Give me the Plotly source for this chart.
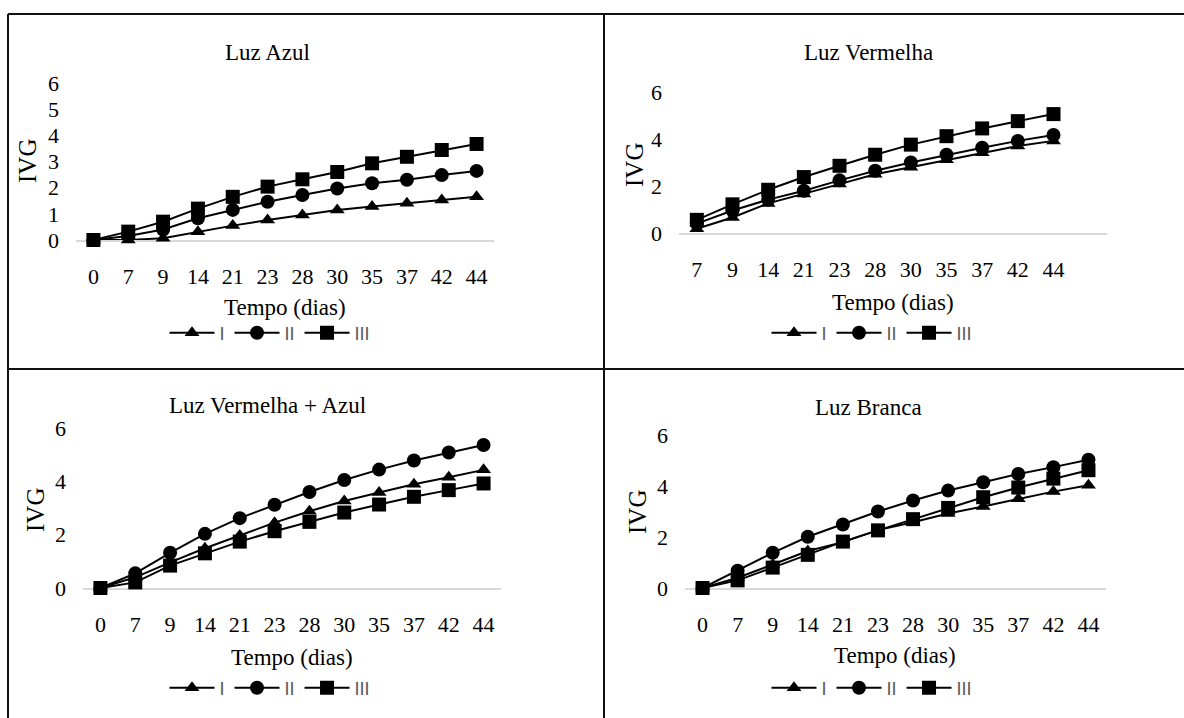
import plotly.graph_objects as go

W, H = 1184, 718

# ---- data ----
days_all = ["0", "7", "9", "14", "21", "23", "28", "30", "35", "37", "42", "44"]
days_verm = ["7", "9", "14", "21", "23", "28", "30", "35", "37", "42", "44"]
series_names = ["I", "II", "III"]

azul_I = [0, 0.0, 0.07, 0.32, 0.55, 0.76, 0.96, 1.15, 1.28, 1.40, 1.53, 1.65]
azul_II = [0, 0.15, 0.40, 0.83, 1.15, 1.46, 1.72, 1.97, 2.17, 2.30, 2.48, 2.64]
azul_III = [0, 0.32, 0.70, 1.20, 1.65, 2.04, 2.32, 2.60, 2.93, 3.18, 3.44, 3.67]

verm_I = [0.18, 0.66, 1.26, 1.66, 2.08, 2.50, 2.80, 3.12, 3.42, 3.70, 3.92]
verm_II = [0.40, 0.96, 1.42, 1.80, 2.24, 2.65, 3.00, 3.33, 3.63, 3.92, 4.17]
verm_III = [0.56, 1.22, 1.84, 2.38, 2.86, 3.33, 3.76, 4.12, 4.45, 4.76, 5.06]

va_I = [0, 0.40, 0.96, 1.49, 1.97, 2.45, 2.88, 3.26, 3.58, 3.89, 4.15, 4.43]
va_II = [0, 0.55, 1.32, 2.03, 2.62, 3.12, 3.60, 4.05, 4.44, 4.78, 5.08, 5.36]
va_III = [0, 0.21, 0.84, 1.30, 1.74, 2.13, 2.48, 2.83, 3.13, 3.42, 3.67, 3.92]

br_I = [0, 0.40, 0.92, 1.45, 1.80, 2.27, 2.58, 2.92, 3.20, 3.50, 3.78, 4.03]
br_II = [0, 0.68, 1.38, 2.01, 2.49, 3.00, 3.43, 3.82, 4.15, 4.47, 4.74, 5.03]
br_III = [0, 0.30, 0.80, 1.30, 1.82, 2.26, 2.70, 3.14, 3.56, 3.94, 4.29, 4.62]

titles = ["Luz Azul", "Luz Vermelha", "Luz Vermelha + Azul", "Luz Branca"]
x_title = "Tempo (dias)"
y_title = "IVG"

panels = [
    (days_all, [azul_I, azul_II, azul_III]),
    (days_verm, [verm_I, verm_II, verm_III]),
    (days_all, [va_I, va_II, va_III]),
    (days_all, [br_I, br_II, br_III]),
]

# ---- layout geometry (pixels) ----
geo = [
    (76, 494, 240, 83),
    (679, 1107, 233, 92),
    (83, 501, 588, 428),
    (685, 1106, 588, 435),
]
title_pos = [(267, 52), (868, 52), (267, 405), (868, 407)]
ivg_pos = [(28, 161), (635, 165), (35, 510), (637, 512)]
xt_pos = [(285, 307), (893, 302), (292, 657), (895, 655)]
leg_pos = [(270, 333), (872, 333), (270, 688), (872, 688)]
dticks = [1, 2, 2, 2]

px = lambda v: v / W
py = lambda v: 1 - v / H

SERIF = "Liberation Serif"
symbols = ["triangle-up", "circle", "square"]
msizes = [13, 14, 14]

fig = go.Figure()
annotations = []
for i, (cats, ser) in enumerate(panels):
    sfx = "" if i == 0 else str(i + 1)
    legname = "legend" if i == 0 else f"legend{i + 1}"
    for j, vals in enumerate(ser):
        fig.add_trace(go.Scatter(
            x=cats, y=vals, name=series_names[j], mode="lines+markers",
            line=dict(color="black", width=2),
            marker=dict(symbol=symbols[j], size=msizes[j], color="black"),
            xaxis="x" + sfx, yaxis="y" + sfx, legend=legname,
            cliponaxis=False, showlegend=True,
        ))
    x0, x1, y0, y6 = geo[i]
    fig.layout["xaxis" + sfx] = dict(
        domain=[px(x0), px(x1)], anchor="y" + sfx, type="category",
        categoryorder="array", categoryarray=cats, automargin=False,
        range=[-0.5, 11.5], showgrid=False, zeroline=False,
        showline=True, linecolor="#d9d9d9", linewidth=1.5, layer="below traces",
        ticks="", ticklabelstandoff=16,
        tickfont=dict(family=SERIF, size=22, color="black"), fixedrange=True,
    )
    fig.layout["yaxis" + sfx] = dict(
        domain=[py(y0), py(y6)], anchor="x" + sfx, range=[0, 6], automargin=False,
        dtick=dticks[i], tick0=0, showgrid=False, zeroline=False, showline=False,
        ticks="", ticklabelstandoff=16,
        tickfont=dict(family=SERIF, size=22, color="black"), fixedrange=True,
    )
    fig.layout[legname] = dict(
        orientation="h", x=px(leg_pos[i][0]), y=py(leg_pos[i][1]),
        xanchor="center", yanchor="middle", itemwidth=45,
        font=dict(family="Liberation Sans", size=18, color="#595959"),
        bgcolor="rgba(0,0,0,0)", tracegroupgap=0, itemclick=False,
    )
    annotations.append(dict(text=titles[i], x=px(title_pos[i][0]), y=py(title_pos[i][1]),
                            xref="paper", yref="paper", showarrow=False,
                            xanchor="center", yanchor="middle",
                            font=dict(family=SERIF, size=23, color="black")))
    annotations.append(dict(text=x_title, x=px(xt_pos[i][0]), y=py(xt_pos[i][1]),
                            xref="paper", yref="paper", showarrow=False,
                            xanchor="center", yanchor="middle",
                            font=dict(family=SERIF, size=23, color="black")))
    annotations.append(dict(text=y_title, x=px(ivg_pos[i][0]), y=py(ivg_pos[i][1]),
                            xref="paper", yref="paper", showarrow=False, textangle=-90,
                            xanchor="center", yanchor="middle",
                            font=dict(family=SERIF, size=25, color="black")))

border = dict(color="#111111", width=2)
shapes = [
    dict(type="line", xref="paper", yref="paper", x0=px(8), x1=1, y0=py(14), y1=py(14), line=border),
    dict(type="line", xref="paper", yref="paper", x0=px(8), x1=px(8), y0=py(14), y1=0, line=border),
    dict(type="line", xref="paper", yref="paper", x0=px(604), x1=px(604), y0=py(14), y1=0, line=border),
    dict(type="line", xref="paper", yref="paper", x0=px(8), x1=1, y0=py(369), y1=py(369), line=border),
]

fig.update_layout(
    template="none",
    width=W, height=H, margin=dict(l=0, r=0, t=0, b=0, pad=0, autoexpand=False),
    paper_bgcolor="white", plot_bgcolor="white",
    annotations=annotations, shapes=shapes,
    font=dict(family=SERIF, color="black"),
)

fig.write_html(
    "out.html",
    config={"displayModeBar": False},
    post_script="document.documentElement.style.margin='0';document.body.style.margin='0';document.body.style.padding='0';document.body.style.overflow='hidden';",
)
